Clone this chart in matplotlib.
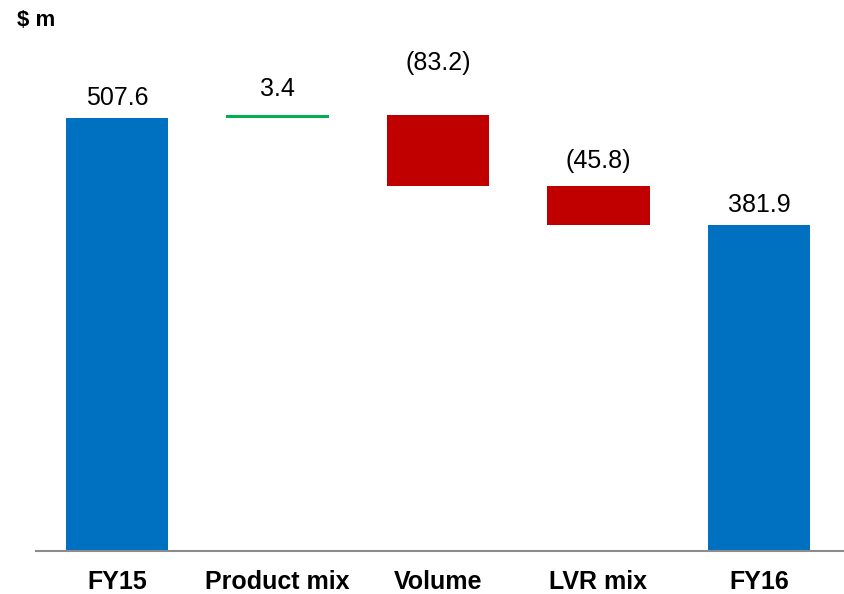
import matplotlib
matplotlib.use("Agg")
import matplotlib.pyplot as plt

categories = ["FY15", "Product mix", "Volume", "LVR mix", "FY16"]
values = [507.6, 3.4, -83.2, -45.8, 381.9]
labels = ["507.6", "3.4", "(83.2)", "(45.8)", "381.9"]
kinds = ["total", "delta", "delta", "delta", "total"]

plt.rcParams['font.family'] = ['Liberation Sans', 'DejaVu Sans']

fig = plt.figure(figsize=(8.44, 5.94), dpi=100)
ax = fig.add_axes([36/844, 43/594, 1 - 36/844, 1 - 43/594])

blue, red, green = "#0070C0", "#C00000", "#00B050"
label_offsets = [9.4, 13.7, 32.4, 13.0, 9.4]

running = 0.0
for i, (v, k) in enumerate(zip(values, kinds)):
    if k == "total":
        bottom, height, color = 0, v, blue
        running = v
        top = v
    else:
        if v >= 0:
            bottom, height, color = running, v, green
            top = running + v
        else:
            bottom, height, color = running + v, -v, red
            top = running
        running += v
    ax.bar(i, height, bottom=bottom, width=0.636, color=color, linewidth=0)
    ax.annotate(labels[i], xy=(i, top), xytext=(0, label_offsets[i]),
                textcoords="offset points", ha="center", va="baseline",
                fontsize=18, color="#000000")

ax.set_xlim(-0.505, 4.53)
ax.set_ylim(0, 646)
ax.set_xticks(range(len(categories)))
ax.set_xticklabels(categories, fontsize=18, fontweight="bold")
ax.tick_params(axis="x", length=0, pad=14)
ax.set_yticks([])
for s in ["top", "right", "left"]:
    ax.spines[s].set_visible(False)
ax.spines["bottom"].set_color("#8c8c8c")
ax.spines["bottom"].set_linewidth(1.5)

fig.text(17/844, 1 - 20/594, "$ m", fontsize=16, fontweight="bold",
         ha="left", va="center")

fig.savefig("out.png", dpi=100)
